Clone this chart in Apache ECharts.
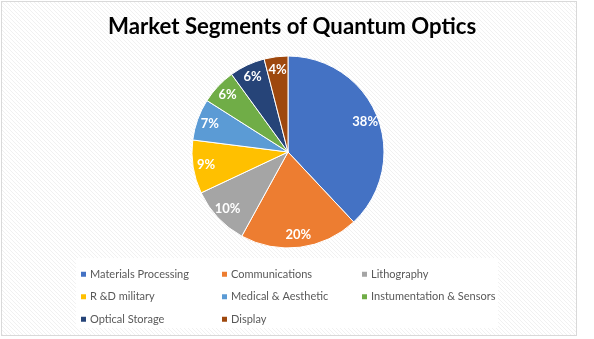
<!DOCTYPE html>
<html><head><meta charset="utf-8">
<script src="https://cdn.jsdelivr.net/npm/echarts@6/dist/echarts.min.js"></script>
<style>
html,body{margin:0;padding:0;background:#fff;}
#frame{position:absolute;left:1px;top:1px;width:574px;height:333px;border:1px solid #d9d9d9;
background-color:#fff;
background-image:url("data:image/svg+xml,%3Csvg xmlns='http://www.w3.org/2000/svg' width='4' height='4' shape-rendering='crispEdges'%3E%3Crect x='0' y='0' width='1' height='1' fill='%23f1f1f1'/%3E%3Crect x='1' y='1' width='1' height='1' fill='%23f1f1f1'/%3E%3Crect x='2' y='2' width='1' height='1' fill='%23f1f1f1'/%3E%3Crect x='3' y='3' width='1' height='1' fill='%23f1f1f1'/%3E%3C/svg%3E");
background-size:4px 4px;}
#chart{position:absolute;left:0;top:0;width:594px;height:339px;}
</style></head>
<body>
<div id="frame"></div>
<div id="chart"></div>
<script>
const titleText = 'Market Segments of Quantum Optics';
const categories = ['Materials Processing','Communications','Lithography','R &D military','Medical & Aesthetic','Instumentation & Sensors','Optical Storage','Display'];
const shares = [38,20,10,9,7,6,6,4];
const colors = ['#4472C4','#ED7D31','#A5A5A5','#FFC000','#5B9BD5','#70AD47','#264478','#9E480E'];
const legendCols = [[0,3,6],[1,4,7],[2,5]];

const data = categories.map((c,i)=>({name:c,value:shares[i],itemStyle:{color:colors[i]}}));
const chart = echarts.init(document.getElementById('chart'),null,{renderer:'canvas'});
const legendBase = {
  orient:'vertical', top:263, itemWidth:7, itemHeight:7, itemGap:10, icon:'rect',
  selectedMode:false,
  textStyle:{fontFamily:'Lato', fontSize:11, color:'#595959', padding:[0,0,0,-2], height:12.5, lineHeight:12.5}
};
chart.setOption({
  animation:false,
  backgroundColor:'transparent',
  title:{text:titleText,left:103,top:11,textStyle:{fontFamily:'Lato',fontWeight:'bold',fontSize:22.2,color:'#000'}},
  graphic:[{type:'rect',z:-10,shape:{x:76,y:258,width:422,height:70},style:{fill:'#fff'}}],
  legend: legendCols.map((col,k)=>Object.assign({}, legendBase, {left:[74,215,355][k], data:col.map(i=>categories[i])})),
  series:[
    {type:'pie', center:[288,152], radius:[0,96], startAngle:90, clockwise:true,
     data:data, label:{show:false}, labelLine:{show:false},
     itemStyle:{borderColor:'#fff',borderWidth:1}, emphasis:{disabled:true}},
    {type:'pie', center:[288,152], radius:[61,99], startAngle:90, clockwise:true, silent:true,
     legendHoverLink:false,
     data:data.map(d=>({name:d.name,value:d.value,itemStyle:{color:'rgba(0,0,0,0)'}})),
     label:{show:true, position:'inside', formatter:'{c}%', color:'#fff', fontFamily:'Lato', fontWeight:'bold', fontSize:13},
     labelLine:{show:false}, itemStyle:{borderWidth:0}, emphasis:{disabled:true}}
  ]
});
</script>
</body></html>
